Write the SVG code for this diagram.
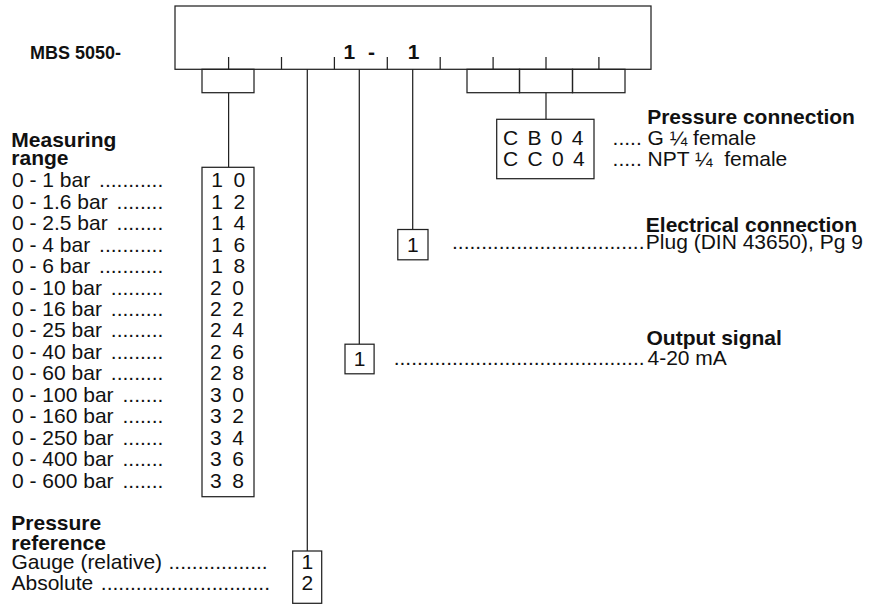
<svg xmlns="http://www.w3.org/2000/svg" width="875" height="606" viewBox="0 0 875 606">
<style>
.t{font-family:"Liberation Sans",Arial,Helvetica,sans-serif;font-size:21px;fill:#111}
.b{font-weight:bold}
.ln{stroke:#222;stroke-width:1.25;fill:none}
.bx{stroke:#222;stroke-width:1.25;fill:#fff}
</style>
<rect x="0" y="0" width="875" height="606" fill="#fff"/>

<g id="mbs-label">
<text class="t b" x="121" y="59.3" text-anchor="end" style="font-size:18px">MBS 5050-</text>
</g>

<g id="code-box">
<rect class="bx" x="175" y="6" width="476" height="63.3"/>
<path class="ln" d="M228.6 57V69.3M281.5 57V69.3M334.4 57V69.3M387.3 57V69.3M440.2 57V69.3M493.1 57V69.3M546 57V69.3M598.9 57V69.3"/>
<text class="t b" y="59.3"><tspan x="343.5">1</tspan><tspan x="368">-</tspan><tspan x="407.8">1</tspan></text>
</g>

<g id="connectors">
<rect class="ln" x="202" y="69.3" width="52" height="23.4"/>
<rect class="ln" x="467" y="69.3" width="52.5" height="23.4"/>
<rect class="ln" x="519.5" y="69.3" width="53" height="23.4"/>
<rect class="ln" x="572.5" y="69.3" width="52.5" height="23.4"/>
<path class="ln" d="M228.6 92.7V167.3"/>
<path class="ln" d="M546 92.7V119.3"/>
<path class="ln" d="M307.3 69.3V551"/>
<path class="ln" d="M359.3 69.3V344.2"/>
<path class="ln" d="M412.7 69.3V229.5"/>
</g>

<g id="measuring-range">
<text class="t b" x="11.3" y="146.7">Measuring</text>
<text class="t b" x="11.3" y="165">range</text>
<rect class="bx" x="202" y="167.3" width="52" height="329.4"/>
<g class="t">
<text y="187.3"><tspan x="12">0 - 1 bar </tspan><tspan x="99.1">...........</tspan></text>
<text y="208.75"><tspan x="12">0 - 1.6 bar </tspan><tspan x="116.6">........</tspan></text>
<text y="230.2"><tspan x="12">0 - 2.5 bar </tspan><tspan x="116.6">........</tspan></text>
<text y="251.65"><tspan x="12">0 - 4 bar </tspan><tspan x="99.1">...........</tspan></text>
<text y="273.1"><tspan x="12">0 - 6 bar </tspan><tspan x="99.1">...........</tspan></text>
<text y="294.55"><tspan x="12">0 - 10 bar </tspan><tspan x="110.8">.........</tspan></text>
<text y="316"><tspan x="12">0 - 16 bar </tspan><tspan x="110.8">.........</tspan></text>
<text y="337.45"><tspan x="12">0 - 25 bar </tspan><tspan x="110.8">.........</tspan></text>
<text y="358.9"><tspan x="12">0 - 40 bar </tspan><tspan x="110.8">.........</tspan></text>
<text y="380.35"><tspan x="12">0 - 60 bar </tspan><tspan x="110.8">.........</tspan></text>
<text y="401.8"><tspan x="12">0 - 100 bar </tspan><tspan x="122.5">.......</tspan></text>
<text y="423.25"><tspan x="12">0 - 160 bar </tspan><tspan x="122.5">.......</tspan></text>
<text y="444.7"><tspan x="12">0 - 250 bar </tspan><tspan x="122.5">.......</tspan></text>
<text y="466.15"><tspan x="12">0 - 400 bar </tspan><tspan x="122.5">.......</tspan></text>
<text y="487.6"><tspan x="12">0 - 600 bar </tspan><tspan x="122.5">.......</tspan></text>
</g>
<g class="t" style="word-spacing:4.7px">
<text x="211.2" y="187.3">1 0</text>
<text x="211.2" y="208.75">1 2</text>
<text x="211.2" y="230.2">1 4</text>
<text x="211.2" y="251.65">1 6</text>
<text x="211.2" y="273.1">1 8</text>
<text x="210" y="294.55">2 0</text>
<text x="210" y="316">2 2</text>
<text x="210" y="337.45">2 4</text>
<text x="210" y="358.9">2 6</text>
<text x="210" y="380.35">2 8</text>
<text x="210" y="401.8">3 0</text>
<text x="210" y="423.25">3 2</text>
<text x="210" y="444.7">3 4</text>
<text x="210" y="466.15">3 6</text>
<text x="210" y="487.6">3 8</text>
</g>
</g>

<g id="pressure-reference">
<text class="t b" x="11.3" y="530">Pressure</text>
<text class="t b" x="11.3" y="550">reference</text>
<text class="t" y="569.3"><tspan x="11.5">Gauge (relative)</tspan><tspan x="168.5">.................</tspan></text>
<text class="t" y="590"><tspan x="11.5">Absolute </tspan><tspan x="100.8">.............................</tspan></text>
<rect class="bx" x="292.7" y="551" width="29" height="52.3"/>
<text class="t" x="307.3" y="569.3" text-anchor="middle">1</text>
<text class="t" x="307.3" y="590" text-anchor="middle">2</text>
</g>

<g id="output-signal">
<rect class="bx" x="345" y="344.2" width="29.1" height="29.6"/>
<text class="t" x="359.5" y="366" text-anchor="middle">1</text>
<text class="t b" x="646.5" y="345.3">Output signal</text>
<text class="t" y="365.1"><tspan x="393.7">...........................................</tspan><tspan x="647.5">4-20 mA</tspan></text>
</g>

<g id="electrical-connection">
<rect class="bx" x="397.8" y="229.5" width="30.2" height="30.3"/>
<text class="t" x="412.9" y="252" text-anchor="middle">1</text>
<text class="t b" x="645.8" y="232">Electrical connection</text>
<text class="t" y="248.7"><tspan x="452">.................................</tspan><tspan x="645.8">Plug (DIN 43650), Pg 9</tspan></text>
</g>

<g id="pressure-connection">
<text class="t b" x="647.2" y="124">Pressure connection</text>
<rect class="bx" x="496.7" y="119.3" width="97.3" height="59.4"/>
<g class="t" style="word-spacing:3.5px">
<text x="503" y="145">C B 0 4</text>
<text x="503" y="165.5">C C 0 4</text>
</g>
<text class="t" x="612.6" y="145">..... G ¼ female</text>
<text class="t" x="612.6" y="165.5" xml:space="preserve">..... NPT ¼  female</text>
</g>
</svg>
